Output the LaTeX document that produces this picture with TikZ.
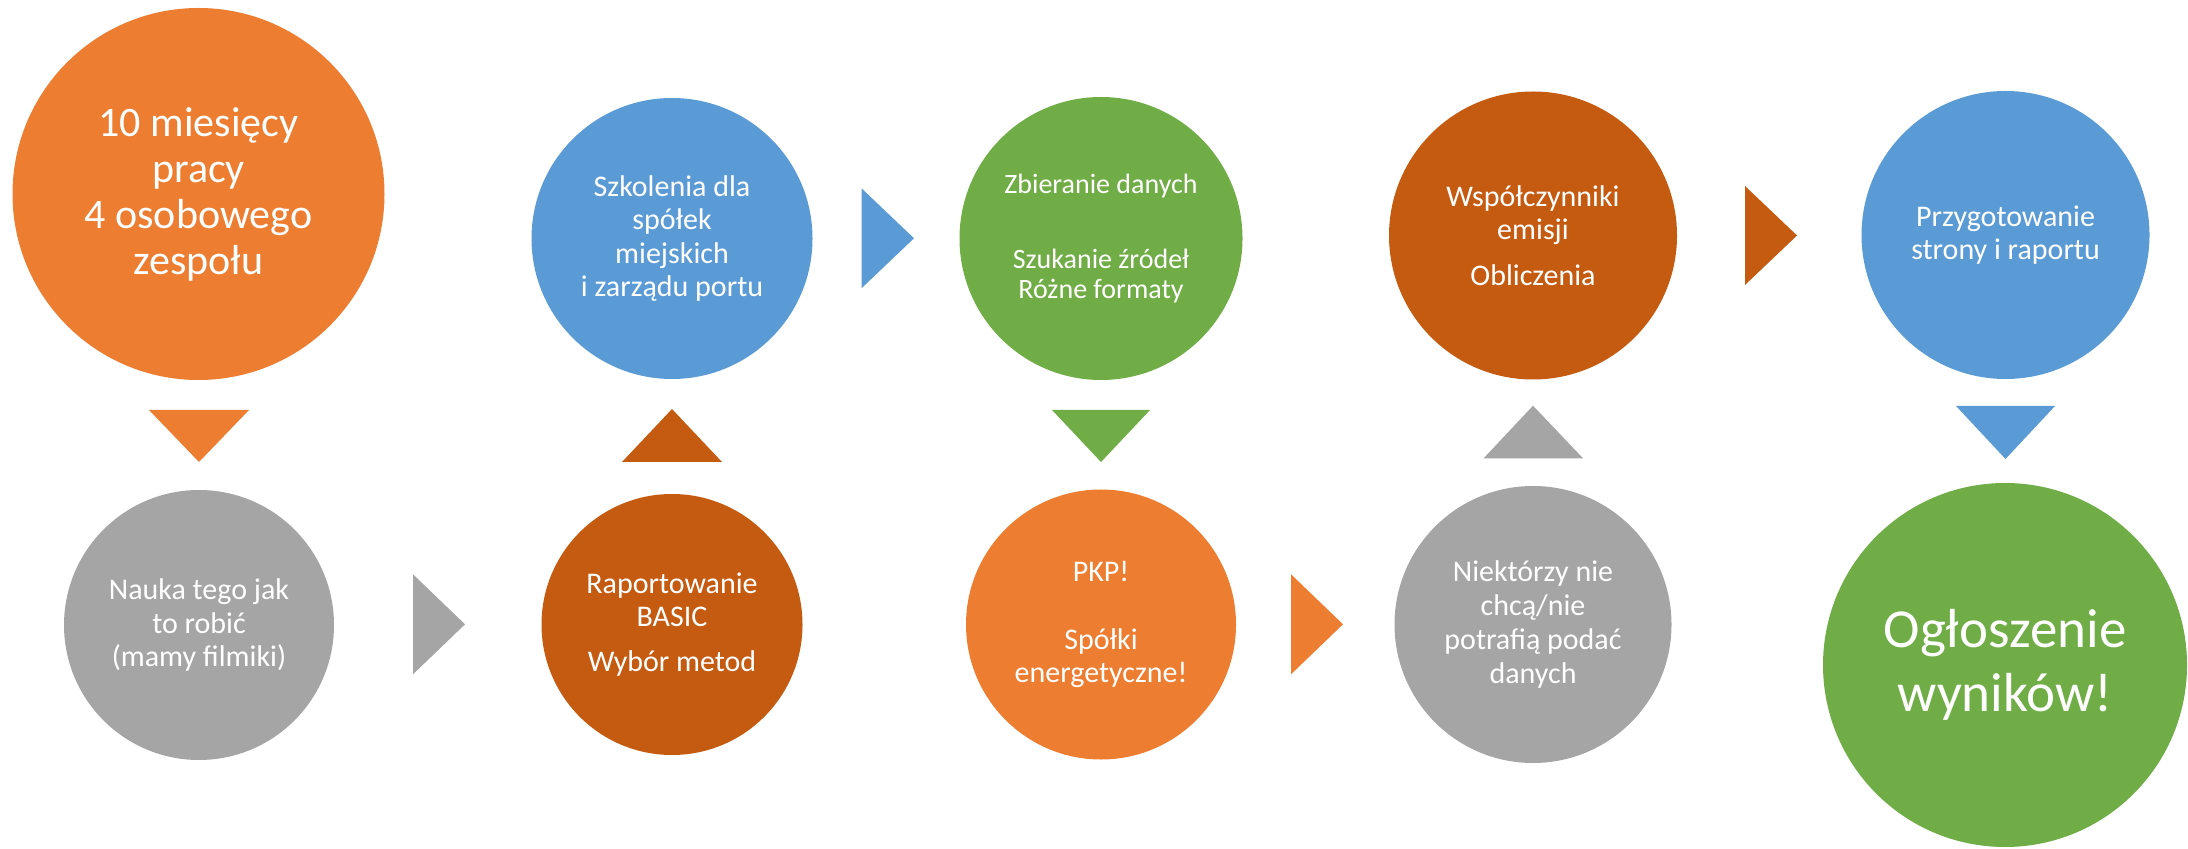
\documentclass[tikz,border=0pt]{standalone}
\usepackage{fontspec}
\setmainfont{Carlito}
\definecolor{cOrange}{HTML}{ED7D31}
\definecolor{cBlue}{HTML}{5B9BD5}
\definecolor{cGreen}{HTML}{70AD47}
\definecolor{cDark}{HTML}{C55A11}
\definecolor{cGray}{HTML}{A5A5A5}
\tikzset{
  bubble/.style={circle, inner sep=0pt, text=white, align=center, font=\fontsize{15}{16.7}\selectfont}
}
\begin{document}
\begin{tikzpicture}[x=0.5pt, y=-0.5pt]
\useasboundingbox (0,0) rectangle (2188,849);
% circles
\node[bubble, fill=cOrange, minimum size=186pt, font=\fontsize{21}{23}\selectfont] (c1) at (198.5,194) {10 miesięcy\\pracy\\4 osobowego\\zespołu};
\node[bubble, fill=cBlue, minimum size=140.5pt] (c2) at (672,238.5) {Szkolenia dla\\spółek\\miejskich\\i zarządu portu};
\node[bubble, fill=cGreen, minimum size=141.5pt, font=\fontsize{14}{15}\selectfont] (c3) at (1101,238.5) {Zbieranie danych\\[22.5pt]Szukanie źródeł\\Różne formaty};
\node[bubble, fill=cDark, minimum size=144pt] (c4) at (1533,235.5) {Współczynniki\\emisji\\[6pt]Obliczenia};
\node[bubble, fill=cBlue, minimum size=144pt] (c5) at (2005.5,235) {Przygotowanie\\strony i raportu};
\node[bubble, fill=cGray, minimum size=135pt, font=\fontsize{15}{16.8}\selectfont] (c6) at (199,625) {Nauka tego jak\\to robić\\(mamy filmiki)};
\node[bubble, fill=cDark, minimum size=130.5pt] (c7) at (672,624.5) {Raportowanie\\BASIC\\[6pt]Wybór metod};
\node[bubble, fill=cOrange, minimum size=135pt] (c8) at (1101,624.5) {PKP!\\[17.5pt]Spółki\\energetyczne!};
\node[bubble, fill=cGray, minimum size=138.5pt, font=\fontsize{15}{17}\selectfont] (c9) at (1533,624.5) {Niektórzy nie\\chcą/nie\\potrafią podać\\danych};
\node[bubble, fill=cGreen, minimum size=182pt, font=\fontsize{27.5}{31.7}\selectfont] (c10) at (2005,665) {Ogłoszenie\\wyników!};
% chevrons
\fill[cOrange] (149,410) -- (249,410) -- (199,462) -- cycle;
\fill[cDark] (622,462) -- (722,462) -- (672,409) -- cycle;
\fill[cBlue] (861.5,188.3) -- (861.5,288.3) -- (914,238.3) -- cycle;
\fill[cGreen] (1052,410) -- (1150,410) -- (1101,462) -- cycle;
\fill[cOrange] (1291,574.3) -- (1291,674.3) -- (1343,624.3) -- cycle;
\fill[cGray] (1483.6,458.3) -- (1583,458.3) -- (1533,405.7) -- cycle;
\fill[cDark] (1745,186) -- (1745,285) -- (1797,235.5) -- cycle;
\fill[cBlue] (1956,406) -- (2055,406) -- (2005.5,459) -- cycle;
\fill[cGray] (413,574.3) -- (413,674.3) -- (465,624.3) -- cycle;
\end{tikzpicture}
\end{document}
